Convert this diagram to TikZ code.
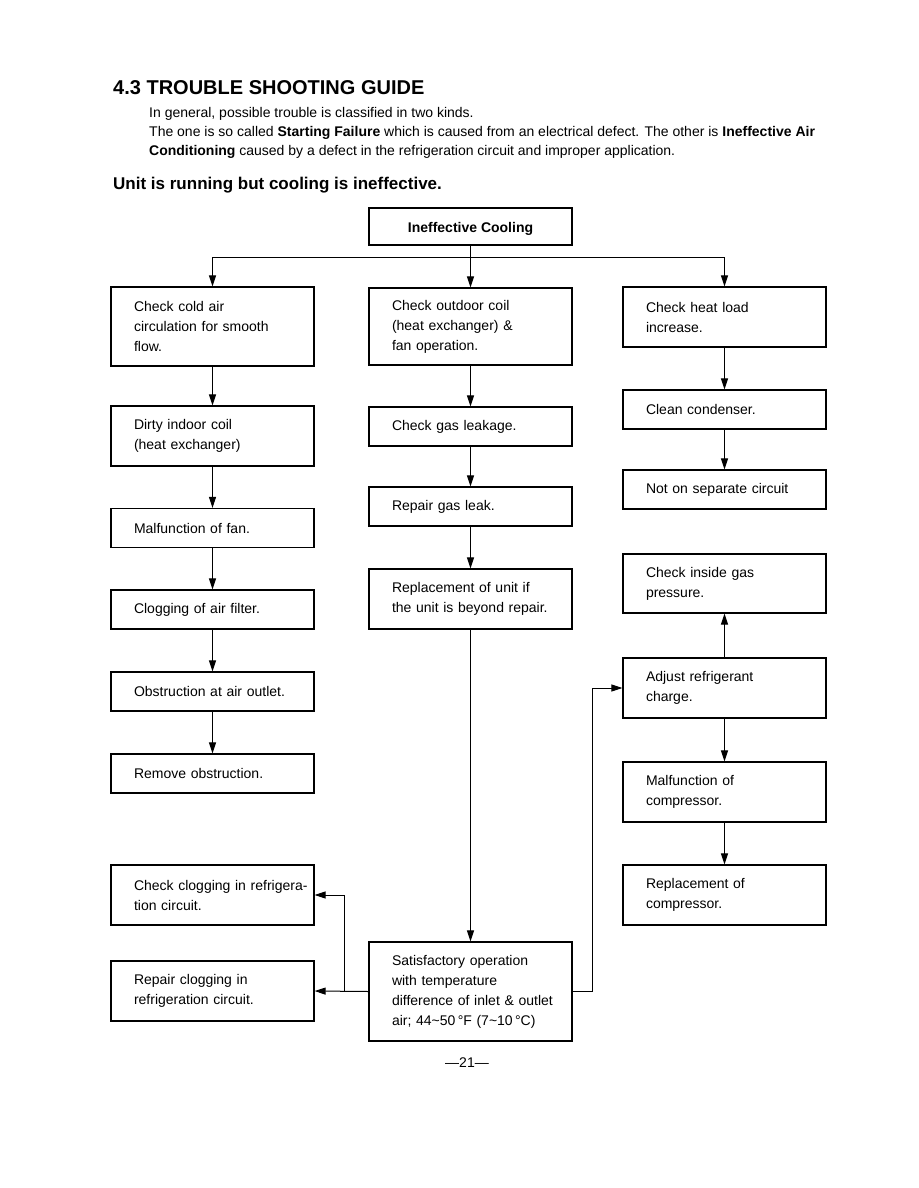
\documentclass[tikz,border=0pt]{standalone}
\usepackage{fontspec}
\setmainfont{Liberation Sans}
\usetikzlibrary{arrows.meta}

\begin{document}
\begin{tikzpicture}[
        x=1pt, y=-1pt,
        font=\fontsize{14}{20}\selectfont,
        >={Triangle[length=11pt,width=7pt]},
        box/.style  ={draw, line width=1.2pt, minimum width=203pt, minimum height=#1,
                      text width=200pt, inner xsep=0pt, inner ysep=0pt, align=left,
                      execute at begin node={\leftskip=21.5pt}},
        box/.default=39pt,
        head/.style ={draw, line width=1.2pt, minimum width=203pt, minimum height=37pt,
                      text height=12pt, text depth=1pt,
                      font=\fontsize{14}{20}\selectfont\bfseries},
        flow/.style ={->, line width=1pt},
    ]
    \useasboundingbox (0,0) rectangle (918,1188);

    % ===================== Heading =====================
    \node[anchor=west, inner sep=0pt, font=\fontsize{20}{24}\selectfont\bfseries]
        (title) at (113,88) {4.3 TROUBLE SHOOTING GUIDE};
    \node[anchor=north west, inner sep=0pt, align=left, font=\fontsize{14}{19}\selectfont]
        (intro) at (149,107)
        {In general, possible trouble is classified in two kinds.\\
         The one is so called \textbf{Starting Failure} which is caused from an electrical defect. The other is \textbf{Ineffective Air}\\
         \textbf{Conditioning} caused by a defect in the refrigeration circuit and improper application.};
    \node[anchor=west, inner sep=0pt, font=\fontsize{17}{20}\selectfont\bfseries]
        (sub) at (113,185) {Unit is running but cooling is ineffective.};

    % ===================== Top =====================
    \node[head] (ic) at (470.5,226.5) {Ineffective Cooling};

    % ===================== Left column =====================
    \node[box=79pt] (cold)   at (212.5,326.5) {Check cold air\\circulation for smooth\\flow.};
    \node[box=60pt] (dirty)  at (212.5,436)   {Dirty indoor coil\\(heat exchanger)};
    \node[box]      (fan)    at (212.5,528)   {Malfunction of fan.};
    \node[box]      (filter) at (212.5,609.5) {Clogging of air filter.};
    \node[box]      (outlet) at (212.5,691.5) {Obstruction at air outlet.};
    \node[box]      (remove) at (212.5,773.5) {Remove obstruction.};
    \node[box=60pt] (clog)   at (212.5,895)   {Check clogging in refrigera-\\tion circuit.};
    \node[box=60pt] (repair) at (212.5,991)   {Repair clogging in\\refrigeration circuit.};

    % ===================== Middle column =====================
    \node[box=77pt] (outdoor) at (470.5,326.5) {Check outdoor coil\\(heat exchanger) \&\\fan operation.};
    \node[box]      (leak)    at (470.5,426.5) {Check gas leakage.};
    \node[box]      (repleak) at (470.5,506.5) {Repair gas leak.};
    \node[box=60pt] (unit)    at (470.5,599)   {Replacement of unit if\\the unit is beyond repair.};
    \node[box=99pt] (sat)     at (470.5,991.5)
        {Satisfactory operation\\with temperature\\difference of inlet \& outlet\\air; 44\textasciitilde 50\,°F (7\textasciitilde 10\,°C)};

    % ===================== Right column =====================
    \node[box=60pt] (heat)    at (724.5,317)   {Check heat load\\increase.};
    \node[box]      (clean)   at (724.5,409.5) {Clean condenser.};
    \node[box]      (sep)     at (724.5,489.5) {Not on separate circuit};
    \node[box=59pt] (gas)     at (724.5,583.5) {Check inside gas\\pressure.};
    \node[box=60pt] (adjust)  at (724.5,688)   {Adjust refrigerant\\charge.};
    \node[box=60pt] (comp)    at (724.5,792)   {Malfunction of\\compressor.};
    \node[box=60pt] (repcomp) at (724.5,895)   {Replacement of\\compressor.};

    % ===================== Connectors =====================
    \draw[line width=1pt] (ic.south) -- ++(0,12) coordinate (split);
    \draw[flow] (split) -| (cold.north);
    \draw[flow] (split) -| (heat.north);
    \draw[flow] (split) -- (outdoor.north);
    \foreach \a/\b in {cold/dirty, dirty/fan, fan/filter, filter/outlet, outlet/remove,
                       outdoor/leak, leak/repleak, repleak/unit, unit/sat,
                       heat/clean, clean/sep, adjust/comp, comp/repcomp}{
        \draw[flow] (\a.south) -- (\b.north);
    }
    \draw[flow] (adjust.north) -- (gas.south);
    \draw[flow] (sat.east) -- ++(20,0) |- (adjust.west);
    \draw[flow] (sat.west) -- (repair.east);
    \draw[flow] ([xshift=-24pt]sat.west) |- (clog.east);

    % ===================== Page number =====================
    \node (page) at (467,1063) {—21—};
\end{tikzpicture}
\end{document}
